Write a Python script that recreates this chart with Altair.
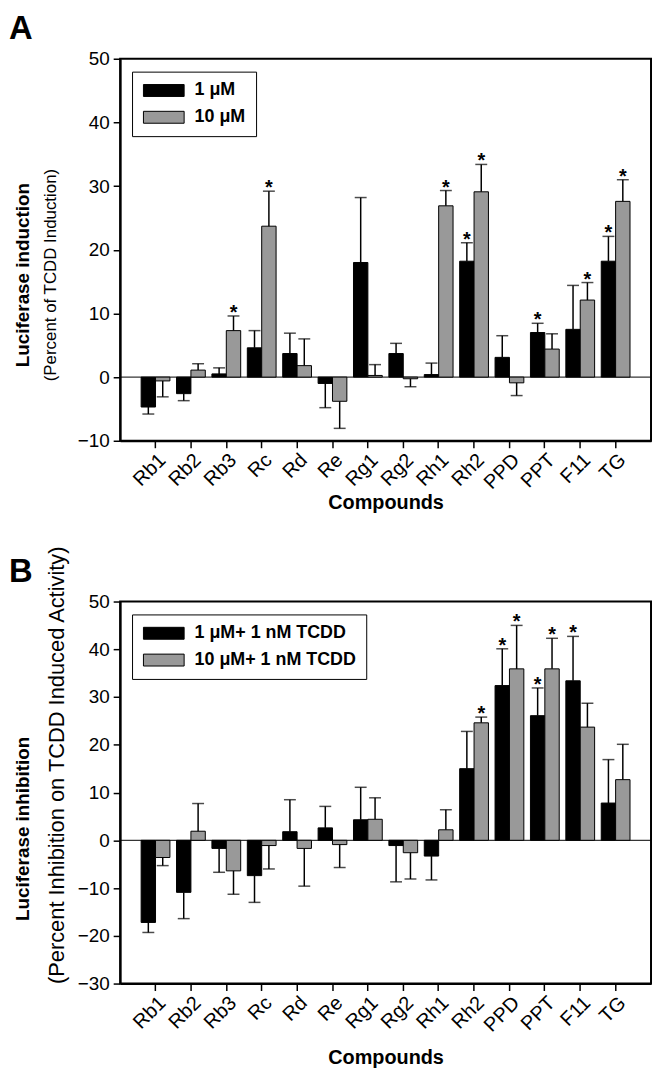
import altair as alt
import pandas as pd

FONT = "Liberation Sans"

compounds = ["Rb1", "Rb2", "Rb3", "Rc", "Rd", "Re", "Rg1", "Rg2", "Rh1", "Rh2", "PPD", "PPT", "F11", "TG"]

# Panel A: luciferase induction
conc_a = ["1 \u03bcM", "10 \u03bcM"]
a_1uM = [-4.7, -2.6, 0.5, 4.6, 3.7, -1.0, 18.0, 3.7, 0.4, 18.2, 3.1, 7.0, 7.5, 18.2]
a_1uM_err = [1.1, 1.1, 0.95, 2.7, 3.2, 3.8, 10.2, 1.6, 1.8, 2.9, 3.4, 1.45, 6.9, 3.9]
a_1uM_sig = [0, 0, 0, 0, 0, 0, 0, 0, 0, 1, 0, 1, 0, 1]
a_10uM = [-0.6, 1.1, 7.3, 23.7, 1.8, -3.8, 0.26, -0.26, 26.9, 29.1, -0.9, 4.4, 12.1, 27.6]
a_10uM_err = [2.5, 1.0, 2.3, 5.5, 4.2, 4.25, 1.7, 1.25, 2.4, 4.3, 2.0, 2.4, 2.75, 3.4]
a_10uM_sig = [0, 0, 1, 1, 0, 0, 0, 0, 1, 1, 0, 0, 1, 1]

# Panel B: luciferase inhibition
conc_b = ["1 \u03bcM+ 1 nM TCDD", "10 \u03bcM+ 1 nM TCDD"]
b_1uM = [-17.2, -10.9, -1.7, -7.4, 1.8, 2.6, 4.3, -1.1, -3.3, 15.0, 32.4, 26.1, 33.4, 7.8]
b_1uM_err = [2.1, 5.5, 5.0, 5.6, 6.7, 4.5, 6.8, 7.6, 5.0, 7.8, 7.7, 5.8, 9.3, 9.1]
b_1uM_sig = [0, 0, 0, 0, 0, 0, 0, 0, 0, 0, 1, 1, 1, 0]
b_10uM = [-3.6, 1.9, -6.4, -1.1, -1.7, -0.9, 4.4, -2.6, 2.2, 24.6, 35.9, 35.9, 23.7, 12.7]
b_10uM_err = [1.7, 5.8, 4.9, 4.9, 7.9, 4.8, 4.5, 5.5, 4.2, 1.2, 9.1, 6.4, 5.0, 7.4]
b_10uM_sig = [0, 0, 0, 0, 0, 0, 0, 0, 0, 1, 1, 1, 0, 0]


def make_df(v1, e1, s1, v2, e2, s2, concs):
    rows = []
    for i, c in enumerate(compounds):
        for conc, v, e, s in ((concs[0], v1[i], e1[i], s1[i]), (concs[1], v2[i], e2[i], s2[i])):
            end = v + e if v >= 0 else v - e
            rows.append(dict(compound=c, conc=conc, value=v, end=end, star="*" if s else ""))
    return pd.DataFrame(rows)


SWATCH = "M-3.417,-1H3.417V1H-3.417Z"


def panel(df, concs, ymin, ymax, ytitle, ysub, letter, tx, ty, sx, sy, sub_size, xtitle_pad):
    x = alt.X("compound:N", sort=compounds,
              scale=alt.Scale(paddingInner=0, paddingOuter=0.5),
              axis=alt.Axis(title="Compounds", labelAngle=-45, titlePadding=xtitle_pad,
                            labelFontSize=20, labelFont=FONT, labelColor="black",
                            labelPadding=2))
    xo = alt.XOffset("conc:N", sort=concs,
                     scale=alt.Scale(domain=concs, paddingInner=0, paddingOuter=0.23))
    y = alt.Y("value:Q", scale=alt.Scale(domain=[ymin, ymax], nice=False, zero=False),
              axis=alt.Axis(values=list(range(ymin, ymax + 1, 10)), title=None,
                            labelFontSize=19, labelFont=FONT, labelColor="black"))
    base = alt.Chart(df)
    bars = base.mark_bar(stroke="black", strokeWidth=1).encode(
        x=x, xOffset=xo, y=y, y2=alt.datum(0),
        color=alt.Color("conc:N", sort=concs,
                        scale=alt.Scale(domain=concs, range=["#000000", "#999999"]),
                        legend=alt.Legend(title=None, orient="none", legendX=12, legendY=13,
                                          direction="vertical", strokeColor="black",
                                          fillColor="white", padding=10,
                                          symbolType=SWATCH, symbolSize=144,
                                          symbolStrokeColor="black", symbolStrokeWidth=1,
                                          symbolOpacity=1, symbolOffset=13,
                                          labelFont=FONT, labelFontSize=18,
                                          labelFontWeight="bold", labelColor="black",
                                          labelOffset=22, rowPadding=9, labelLimit=400)))
    rules = base.mark_rule(color="black", strokeWidth=1.5).encode(
        x=x, xOffset=xo, y="value:Q", y2="end:Q")
    caps = base.mark_tick(color="black", size=12, thickness=1.5).encode(
        x=x, xOffset=xo, y="end:Q")
    stars = base.transform_filter("datum.star != ''").mark_text(
        font=FONT, fontSize=20, fontWeight="bold", color="black", baseline="alphabetic", dy=3
    ).encode(x=x, xOffset=xo, y="end:Q", text="star:N")
    zero = alt.Chart(pd.DataFrame({"z": [0]})).mark_rule(color="black", strokeWidth=1).encode(
        y=alt.datum(0))
    t1 = alt.Chart(pd.DataFrame({"t": [ytitle]})).mark_text(
        angle=270, font=FONT, fontSize=19, fontWeight="bold", color="black",
        align="center", baseline="middle"
    ).encode(text="t:N", x=alt.value(tx), y=alt.value(ty))
    t2 = alt.Chart(pd.DataFrame({"t": [ysub]})).mark_text(
        angle=270, font=FONT, fontSize=sub_size, color="black",
        align="center", baseline="middle"
    ).encode(text="t:N", x=alt.value(sx), y=alt.value(sy))
    lt = alt.Chart(pd.DataFrame({"t": [letter]})).mark_text(
        font=FONT, fontSize=33, fontWeight="bold", color="black",
        align="left", baseline="alphabetic"
    ).encode(text="t:N", x=alt.value(-112), y=alt.value(-20))
    return alt.layer(zero, bars, rules, caps, stars, t1, t2, lt).properties(
        width=535, height=385)


df_a = make_df(a_1uM, a_1uM_err, a_1uM_sig, a_10uM, a_10uM_err, a_10uM_sig, conc_a)
df_b = make_df(b_1uM, b_1uM_err, b_1uM_sig, b_10uM, b_10uM_err, b_10uM_sig, conc_b)

pa = panel(df_a, conc_a, -10, 50, "Luciferase induction", "(Percent of TCDD Induction)",
           "A", -98, 218, -70, 218, 17, 0)
pb = panel(df_b, conc_b, -30, 50, "Luciferase inhibition",
           "(Percent Inhibition on TCDD Induced Activity)",
           "B", -98, 229, -64, 165, 22, 12)

chart = alt.vconcat(pa, pb, spacing=30).resolve_scale(color="independent", xOffset="independent").properties(
    padding={"left": 0, "top": 0, "right": 0, "bottom": 0}
).configure_view(stroke="black", strokeWidth=2).configure_axis(
    domainColor="black", domainWidth=2, tickColor="black", tickWidth=1.5, tickSize=7,
    labelFont=FONT, labelFontSize=18, labelColor="black", labelPadding=4,
    titleFont=FONT, titleFontSize=20, titleFontWeight="bold", titleColor="black", grid=False
)

chart.save("out.html", embed_options={"renderer": "svg", "actions": False})
